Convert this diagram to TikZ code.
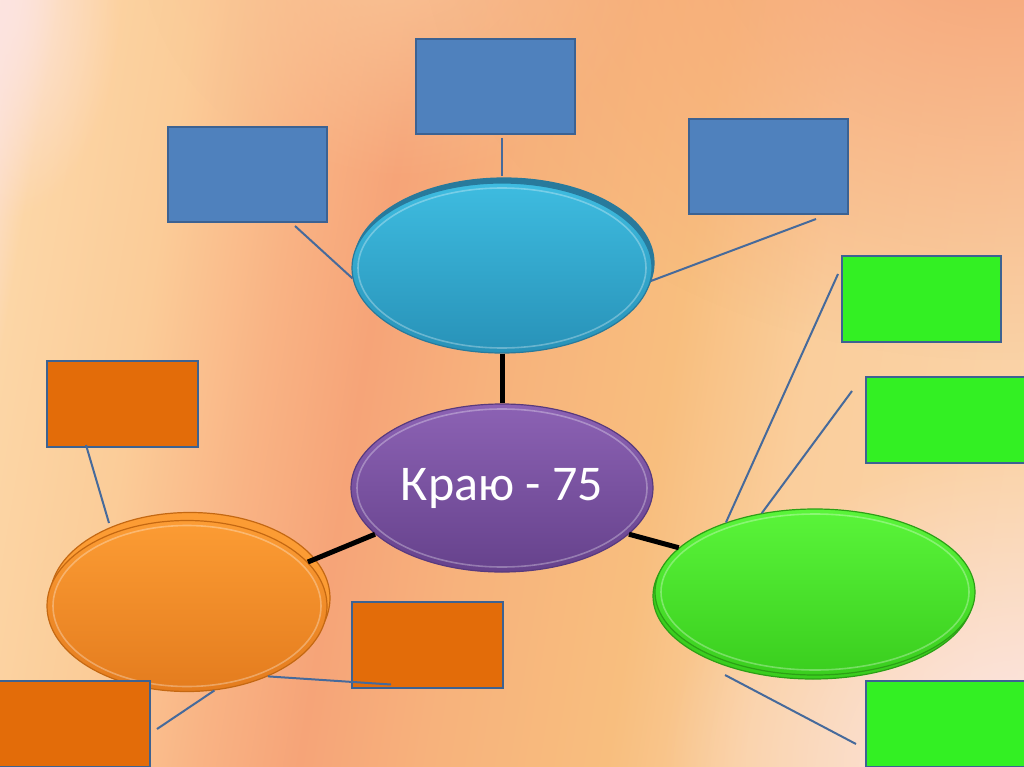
\documentclass[tikz,border=0pt]{standalone}
\usepackage{fontspec}
\setmainfont{Carlito}
\usetikzlibrary{shapes.geometric,shadows,calc,fadings}

\definecolor{WashA}{RGB}{252,228,224}
\definecolor{WashB}{RGB}{252,214,166}
\definecolor{WashC}{RGB}{251,204,152}
\definecolor{WashD}{RGB}{249,179,132}
\definecolor{WashE}{RGB}{246,164,120}
\definecolor{WashEE}{RGB}{247,178,124}
\definecolor{WashF}{RGB}{248,190,126}
\definecolor{WashG}{RGB}{250,206,156}
\definecolor{WashH}{RGB}{250,212,170}
\definecolor{WashPink}{RGB}{252,232,234}
\definecolor{WashTop}{RGB}{249,196,150}
\definecolor{BlueTop}{RGB}{62,188,224}
\definecolor{BlueBot}{RGB}{40,146,184}
\definecolor{BlueRim}{RGB}{40,122,156}
\definecolor{CoreTop}{RGB}{140,98,180}
\definecolor{CoreBot}{RGB}{102,66,140}
\definecolor{CoreRim}{RGB}{88,58,126}
\definecolor{AmberTop}{RGB}{252,156,52}
\definecolor{AmberBot}{RGB}{228,124,30}
\definecolor{AmberRim}{RGB}{196,104,18}
\definecolor{LimeTop}{RGB}{90,245,58}
\definecolor{LimeBot}{RGB}{58,206,30}
\definecolor{LimeRim}{RGB}{44,160,22}
\definecolor{BoxBlue}{RGB}{79,129,189}
\definecolor{BoxAmber}{RGB}{227,108,9}
\definecolor{BoxLime}{RGB}{51,240,35}
\definecolor{BoxFrame}{RGB}{60,98,146}
\definecolor{SpokeBlue}{RGB}{70,106,155}

\pgfdeclarehorizontalshading{kraywash}{100bp}{%
  color(0bp)=(WashA); color(21.3bp)=(WashA); color(24.3bp)=(WashB);
  color(31.2bp)=(WashC); color(37.5bp)=(WashD); color(42.5bp)=(WashE);
  color(48.9bp)=(WashEE); color(57.8bp)=(WashF); color(64.7bp)=(WashG);
  color(78.7bp)=(WashH); color(100bp)=(WashH)}
\tikzfading[name=saltfade,inner color=transparent!0,outer color=transparent!100]

\begin{document}
\begin{tikzpicture}[x=1pt,y=-1pt,
  hub/.style={ellipse,inner sep=0pt,line width=1.2pt,
    path picture={\draw[white,opacity=.3,line width=1.6pt]
      let \p1=($(path picture bounding box.north east)-(path picture bounding box.center)$)
      in (path picture bounding box.center) ellipse[x radius=\x1-6pt,y radius=\y1-5pt];}},
  box/.style={rectangle,draw=BoxFrame,line width=2pt,inner sep=0pt},
  spoke/.style={SpokeBlue,line width=2pt},
  bond/.style={black,line width=5pt}]
  \useasboundingbox (0,0) rectangle (1024,767);
  \clip (0,0) rectangle (1024,767);
  \shade[shading=kraywash,shading angle=-9.3] (0,0) rectangle (1024,767);
  \fill[WashTop,path fading=saltfade] (400,-60) ellipse[x radius=260pt,y radius=240pt];
  \fill[WashE,path fading=saltfade] (1000,-80) ellipse[x radius=580pt,y radius=440pt];
  \fill[WashPink,path fading=saltfade] (1024,767) ellipse[x radius=360pt,y radius=320pt];
  \fill[WashA,path fading=saltfade] (0,0) ellipse[x radius=120pt,y radius=220pt];

  % pixel coordinates, y running down
  \node[hub,top color=BlueTop,bottom color=BlueBot,draw=BlueRim,
    copy shadow={shadow xshift=2pt,shadow yshift=5pt,fill=BlueRim,draw=BlueRim},
    minimum width=300pt,minimum height=170pt] (blueoval) at (502,268) {};
  \node[hub,top color=CoreTop,bottom color=CoreBot,draw=CoreRim,
    minimum width=302pt,minimum height=168pt,text=white,
    font=\fontsize{50}{60}\selectfont] (core) at (502,488) {Краю - 75};
  \node[hub,top color=AmberTop,bottom color=AmberBot,draw=AmberRim,
    copy shadow={shadow xshift=3pt,shadow yshift=8pt,fill=AmberTop,draw=AmberRim},
    minimum width=280pt,minimum height=171pt] (orangeoval) at (187,606) {};
  \node[hub,top color=LimeTop,bottom color=LimeBot,draw=LimeRim,
    copy shadow={shadow xshift=-2pt,shadow yshift=-4pt,fill=LimeBot,draw=LimeRim},
    minimum width=320pt,minimum height=166pt] (greenoval) at (815,592) {};

  \foreach \name/\cx/\cy/\w/\h/\col in {
      blueA/495.5/86.5/159/95/BoxBlue, blueB/247.5/174.5/159/95/BoxBlue,
      blueC/768.5/166.5/159/95/BoxBlue,
      greenA/921.5/299/159/86/BoxLime, greenB/945.5/420/159/86/BoxLime,
      greenC/945.5/724/159/86/BoxLime,
      orangeA/122.5/404/151/86/BoxAmber, orangeB/427.5/644.5/151/86/BoxAmber,
      orangeC/74.5/724/151/86/BoxAmber} {
    \node[box,fill=\col,minimum width=\w pt,minimum height=\h pt] (\name) at (\cx,\cy) {};
  }

  \draw[bond] (blueoval.south) -- (core.north);
  \draw[bond] (core.200) -- (orangeoval.20);
  \draw[bond] (core.340) -- (greenoval.162);

  \draw[spoke,shorten <=3pt,shorten >=6pt] (blueA.south -| blueoval.north) -- (blueoval.north);
  \draw[spoke] ([xshift=-33pt,yshift=-3pt]blueB.south east) -- (blueoval.184);
  \draw[spoke] ([xshift=-33pt,yshift=-4pt]blueC.south east) -- (blueoval.355);
  \draw[spoke] ([xshift=-3pt,yshift=-19pt]greenA.north west) -- (greenoval.142);
  \draw[spoke] ([xshift=-13pt,yshift=-15pt]greenB.north west) -- (greenoval.124);
  \draw[spoke] ([xshift=-9pt,yshift=-20pt]greenC.west) -- ([xshift=-90pt,yshift=-83pt]greenoval.center);
  \draw[spoke] ([xshift=40pt,yshift=3pt]orangeA.south west) -- ([xshift=-78pt,yshift=83pt]orangeoval.center);
  \draw[spoke] (orangeoval.319) -- ([xshift=40pt,yshift=4pt]orangeB.south west);
  \draw[spoke] ([xshift=6pt,yshift=-5pt]orangeC.east) -- (orangeoval.288);
\end{tikzpicture}
\end{document}
